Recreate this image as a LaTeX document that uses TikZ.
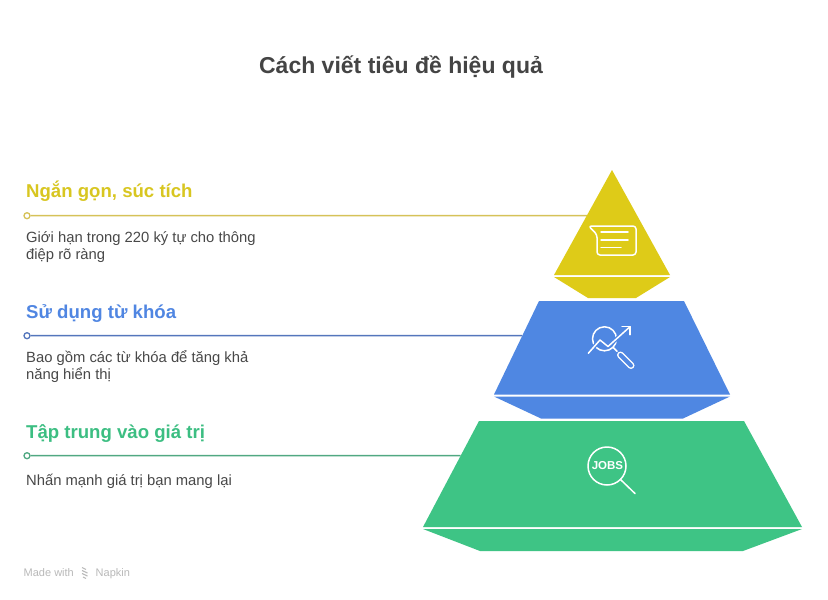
\documentclass[tikz,border=0pt]{standalone}
\usepackage{fontspec}
\setmainfont{Liberation Sans}
\usetikzlibrary{calc}
\definecolor{ylw}{RGB}{222,203,24}
\definecolor{ylwtxt}{RGB}{216,198,32}
\definecolor{ylwln}{RGB}{214,194,88}
\definecolor{blu}{RGB}{79,135,226}
\definecolor{blutxt}{RGB}{80,134,226}
\definecolor{bluln}{RGB}{84,118,188}
\definecolor{grn}{RGB}{62,196,133}
\definecolor{grntxt}{RGB}{60,190,130}
\definecolor{grnln}{RGB}{80,168,130}
\definecolor{ttl}{RGB}{68,68,68}
\definecolor{dsc}{RGB}{72,72,72}
\definecolor{ftr}{RGB}{185,185,185}
\tikzset{
  ttlstyle/.style={anchor=base, inner sep=0, text=ttl, font=\fontsize{23}{27}\selectfont\bfseries},
  headstyle/.style={anchor=base west, inner sep=0, font=\fontsize{18.6}{22}\selectfont\bfseries},
  descstyle/.style={anchor=base west, inner sep=0, text=dsc, align=left, font=\fontsize{14.8}{16.7}\selectfont},
  dotstyle/.style={circle, draw, fill=white, line width=1.3pt, minimum size=6pt, inner sep=0},
  connstyle/.style={line width=1.5pt},
  iconstyle/.style={draw=white, line width=1.5pt, line cap=round, line join=round},
}
\begin{document}
\begin{tikzpicture}[x=1pt,y=-1pt]
\useasboundingbox[fill=white] (0,0) rectangle (828,600);

% title
\node[ttlstyle] (title) at (401,73.3) {Cách viết tiêu đề hiệu quả};

% pyramid geometry
\coordinate (yA) at (612,170);
\coordinate (yL) at (554,275);
\coordinate (yR) at (670,275);
\coordinate (bTL) at (539,301);
\coordinate (bTR) at (684,301);
\coordinate (bBL) at (494,394.5);
\coordinate (bBR) at (730,394.5);
\coordinate (gTL) at (479,421);
\coordinate (gTR) at (744,421);
\coordinate (gBL) at (423,527);
\coordinate (gBR) at (802,527);

% edge points for connectors
\coordinate (yE) at ($(yA)!{(215.7-170)/105}!(yL)$);
\coordinate (bE) at ($(bTL)!{(335.7-301)/93.5}!(bBL)$);
\coordinate (gE) at ($(gTL)!{(455.7-421)/106}!(gBL)$);

% connectors
\node[dotstyle, draw=ylwln] (yD) at (27,215.7) {};
\node[dotstyle, draw=bluln] (bD) at (27,335.7) {};
\node[dotstyle, draw=grnln] (gD) at (27,455.7) {};
\draw[connstyle, ylwln] (yD) -- (yE);
\draw[connstyle, bluln] (bD) -- (bE);
\draw[connstyle, grnln] (gD) -- (gE);

% yellow tier
\fill[ylw] (yA) -- (yR) -- (yL) -- cycle;
\fill[ylw] (554,277) -- (670,277) -- (636,298) -- (588,298) -- cycle;
% blue tier
\fill[blu] (bTL) -- (bTR) -- (bBR) -- (bBL) -- cycle;
\fill[blu] (494,396.5) -- (730,396.5) -- (683,418.5) -- (541,418.5) -- cycle;
% green tier
\fill[grn] (gTL) -- (gTR) -- (gBR) -- (gBL) -- cycle;
\fill[grn] (423,529) -- (802,529) -- (743,551) -- (480,551) -- cycle;

% yellow icon: message bubble
\draw[iconstyle, rounded corners=3pt] (588.5,226) -- (636,226) -- (636,255) -- (597,255) -- (597,234.5) -- cycle;
\draw[iconstyle] (601,232) -- (628,232);
\draw[iconstyle] (601,239.8) -- (628,239.8);
\draw[iconstyle] (601,247.3) -- (621,247.3);

% blue icon: chart with magnifier
\draw[iconstyle] (604.5,338.8) circle[radius=12];
\draw[blu, line width=4pt, line cap=round, line join=round] (590,351.3) -- (600,340) -- (608,346.5) -- (627,329.5);
\draw[iconstyle] (588.3,353.3) -- (600,340) -- (608,346.5) -- (630,326.7);
\draw[iconstyle] (622,326.7) -- (630,326.7) -- (630,334.7);
\draw[iconstyle] (613,347.3) -- (617,351.3);
\draw[white, line width=7pt, line cap=round] (620.5,355) -- (631,365.5);
\draw[blu, line width=4pt, line cap=round] (620.5,355) -- (631,365.5);

% green icon: JOBS magnifier
\draw[iconstyle] (607,466) circle[radius=19];
\draw[iconstyle] (620.5,479.5) -- (635,493.5);
\node[inner sep=0, text=white, font=\fontsize{11.5}{13}\selectfont\bfseries] (jobs) at (607.5,466) {JOBS};

% texts
\node[headstyle, text=ylwtxt] (h1) at (26,197) {Ngắn gọn, súc tích};
\node[descstyle] (d1) at (26,259.4) {Giới hạn trong 220 ký tự cho thông\\điệp rõ ràng};
\node[headstyle, text=blutxt] (h2) at (26,318.3) {Sử dụng từ khóa};
\node[descstyle] (d2) at (26,379.4) {Bao gồm các từ khóa để tăng khả\\năng hiển thị};
\node[headstyle, text=grntxt] (h3) at (26,438.3) {Tập trung vào giá trị};
\node[descstyle] (d3) at (26,485) {Nhấn mạnh giá trị bạn mang lại};

% footer
\node[anchor=base west, inner sep=0, text=ftr, font=\fontsize{11}{13}\selectfont] (made) at (23.5,576) {Made with};
\draw[ftr, line width=1.1pt] (82,567.5) -- (86,569.5) (82,570.5) -- (87.5,573) (82,573.5) -- (87.5,576) (83,577) -- (86,578.5);
\node[anchor=base west, inner sep=0, text=ftr, font=\fontsize{11}{13}\selectfont] (napkin) at (95.5,576) {Napkin};
\end{tikzpicture}
\end{document}
